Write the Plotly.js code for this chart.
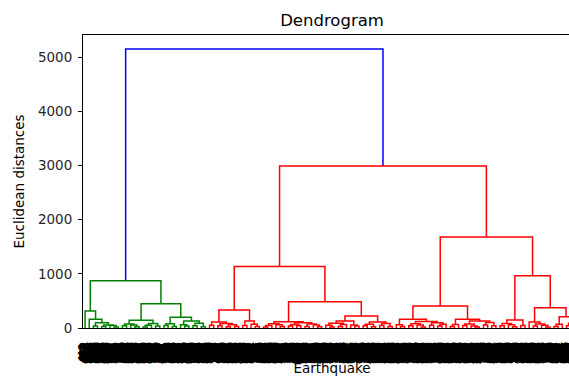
<!DOCTYPE html>
<html>
<head>
<meta charset="utf-8">
<script src="https://cdn.plot.ly/plotly-3.0.1.min.js"></script>
<style>
html, body { margin: 0; padding: 0; background: #fff; overflow: hidden; }
#chart { width: 581px; height: 376px; }
</style>
</head>
<body>
<div id="chart"></div>
<script>
// Linkage tree: node = [mergeHeight, left, right]; leaf = observation id
const greenA = [314, 412, [161, 873, [95, [35, 156, 690], [55, [30, 234, 518], [45, 947, [20, 305, 761]]]]]];
const greenB1 = [142, [75, [40, 129, 584], [55, 836, [25, 203, 477]]], [85, [50, [20, 659, 318], 902], [35, 745, 267]]];
const greenB2 = [198, [80, [45, 531, 118], [30, 684, 397]], [130, [60, 852, [35, 240, 613]], [90, [40, 979, 436], [25, 172, 805]]]];
const greenTree = [875, greenA, [450, greenB1, greenB2]];

const redL1 = [333, [111, [50, 359, 728], [85, [40, 491, 144], [60, [25, 867, 320], [30, 596, 233]]]], [130, [45, 918, 657], [70, 402, [30, 781, 165]]]];
const redL2a = [117, [80, [45, [20, 543, 886], 279], [60, 630, [30, 457, 194]]], [95, [65, [35, 712, 368], [40, 945, 521]], [75, [30, 808, 137], [55, 676, [25, 249, 903]]]]];
const redL2b = [222, [130, [90, [50, 580, [20, 415, 762]], [65, [30, 193, 334], 857]], [55, 626, [35, 108, 471]]], [111, [70, [40, 739, 285], [25, 964, 552]], [85, [45, 197, 823], [30, 346, 610]]]];
const redL = [1134, redL1, [487, redL2a, redL2b]];

const redR1a = [161, [60, 488, [30, 931, 253]], [120, [80, [40, 705, 162], [55, 879, [20, 426, 591]]], [95, [50, 317, 748], [70, [35, 226, 960], 503]]]];
const redR1b = [161, [65, [30, 681, 139], 894], [130, [75, [45, 372, 617], [35, 254, [20, 838, 485]]], [100, [55, 729, 176], [40, 562, 941]]]];
const redR2a = [148, [85, [40, 308, 653], [60, 220, [25, 786, 449]]], [45, 115, 975]];
const redR2b1 = [111, 538, [75, [35, 290, 826], [50, 364, [20, 701, 183]]]];
const redR2b2 = [209, [70, [30, 647, 912], 431], [90, [40, 570, 266], [55, 819, 493]]];
const redR = [1683, [407, redR1a, redR1b], [967, redR2a, [376, redR2b1, redR2b2]]];
const redTree = [2995, redL, redR];

const rootTree = [5155, greenTree, redTree];

const clusterColors = ['#008000', '#ff0000', '#00bfbf', '#bf00bf'];
const aboveColor = '#0000ff';
const yTickVals = [0, 1000, 2000, 3000, 4000, 5000];

// ---- dendrogram layout (scipy convention: leaves at 5, 15, 25, ...) ----
const leafOrder = [];
function place(node) {
  if (typeof node === 'number') {
    const i = leafOrder.length;
    leafOrder.push(String(node));
    return { x: 5 + 10 * i, h: 0, leaf: true };
  }
  const l = place(node[1]);
  const r = place(node[2]);
  return { x: (l.x + r.x) / 2, h: node[0], l: l, r: r, leaf: false };
}
const tree = place(rootTree);
const threshold = 0.7 * rootTree[0];

const segs = {};
let nextColor = 0;
function walk(n, inherited) {
  if (n.leaf) return;
  let c = inherited;
  if (n.h >= threshold) c = aboveColor;
  else if (!inherited || inherited === aboveColor) c = clusterColors[nextColor++ % clusterColors.length];
  if (!segs[c]) segs[c] = { x: [], y: [] };
  segs[c].x.push(n.l.x, n.l.x, n.r.x, n.r.x, null);
  segs[c].y.push(n.l.h, n.h, n.h, n.r.h, null);
  const pass = (c === aboveColor) ? null : c;
  walk(n.l, pass);
  walk(n.r, pass);
}
walk(tree, null);

const traces = Object.keys(segs).map(c => ({
  type: 'scatter', mode: 'lines', x: segs[c].x, y: segs[c].y,
  line: { color: c, width: 1.5 }, hoverinfo: 'skip', showlegend: false
}));

const nLeaves = leafOrder.length;
const font = 'DejaVu Sans, Liberation Sans, sans-serif';
const inkShadow = '2px 0 0 #000, -2px 0 0 #000, 0 2px 0 #000, 0 -2px 0 #000, 1.5px 1.5px 0 #000, -1.5px -1.5px 0 #000, 1.5px -1.5px 0 #000, -1.5px 1.5px 0 #000, 0 0 1px #000';

const layout = {
  width: 581, height: 376,
  margin: { l: 83, r: 0, t: 35, b: 48 },
  paper_bgcolor: '#ffffff', plot_bgcolor: '#ffffff',
  font: { family: font, color: '#000000' },
  title: { text: 'Dendrogram', font: { size: 16.5, family: font, color: '#000000' },
           x: 0.5, xref: 'paper', xanchor: 'center', y: 0.945, yref: 'container', yanchor: 'middle' },
  xaxis: {
    range: [0, 10 * nLeaves], showgrid: false, zeroline: false,
    showline: true, linecolor: '#000000', linewidth: 1, mirror: true,
    ticks: '', tickmode: 'array',
    tickvals: leafOrder.map((_, i) => 5 + 10 * i), ticktext: leafOrder,
    tickangle: -90,
    tickfont: { size: 10.5, family: 'Liberation Sans, Arial, sans-serif', color: '#000000', weight: 'bold', shadow: inkShadow },
    ticklabelstandoff: 11,
    title: { text: 'Earthquake', font: { size: 13.5, family: font, color: '#000000' }, standoff: 7 }
  },
  yaxis: {
    range: [0, 5413], showgrid: false, zeroline: false,
    showline: true, linecolor: '#000000', linewidth: 1, mirror: true,
    ticks: 'outside', ticklen: 4, tickcolor: '#000000', tickwidth: 1,
    tickmode: 'array', tickvals: yTickVals, ticktext: yTickVals.map(String),
    tickfont: { size: 13.5, family: font, color: '#262626' },
    ticklabelstandoff: 3,
    title: { text: 'Euclidean distances', font: { size: 13.5, family: font, color: '#000000' }, standoff: 10 }
  }
};

Plotly.newPlot('chart', traces, layout, { staticPlot: true, displayModeBar: false });
</script>
</body>
</html>
